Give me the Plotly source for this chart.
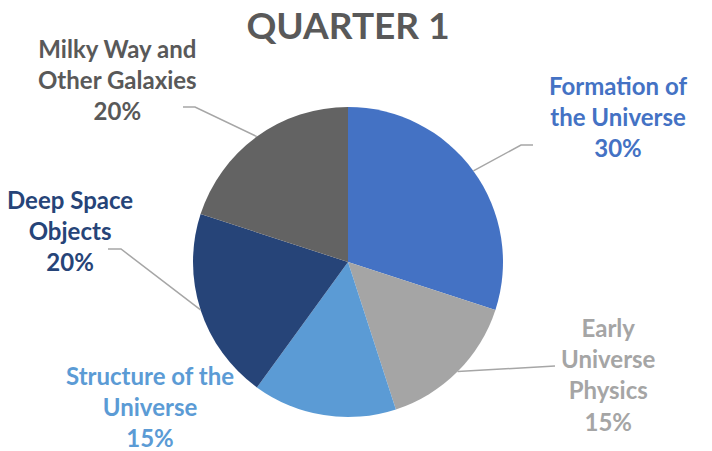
import math
import plotly.graph_objects as go

# Data
categories = ["Formation of<br>the Universe", "Early<br>Universe<br>Physics",
              "Structure of the<br>Universe", "Deep Space<br>Objects",
              "Milky Way and<br>Other Galaxies"]
values = [30, 15, 15, 20, 20]
slice_colors = ["#4472C4", "#A5A5A5", "#5B9BD5", "#264478", "#636363"]
label_colors = ["#4472C4", "#A5A5A5", "#5B9BD5", "#264478", "#595959"]

W, H = 712, 451
CX, CY, R = 348, 262, 155  # pie centre / radius in px

fig = go.Figure(go.Pie(
    labels=categories, values=values, sort=False, direction="clockwise",
    rotation=0, marker=dict(colors=slice_colors, line=dict(width=0)),
    textinfo="none", hoverinfo="label+percent", showlegend=False,
    domain=dict(x=[(CX - R) / W, (CX + R) / W],
                y=[(H - CY - R) / H, (H - CY + R) / H]),
))

# label layout (px positions of label centres) and leader elbows
label_pos = [(618, 117), (608, 374), (150, 406), (70, 230), (118, 79)]
leaders = [
    [(521, 145), (533, 145)],
    [(555, 366)],
    None,
    [(121, 249), (108, 249)],
    [(195, 107), (183, 107)],
]

def px(x, y):
    return x / W, 1 - y / H

total = sum(values)
cum = 0
annotations = []
shapes = []
for i, v in enumerate(values):
    mid = (cum + v / 2) / total * 2 * math.pi
    cum += v
    ex = CX + R * math.sin(mid)
    ey = CY - R * math.cos(mid)
    pct = round(100 * v / total)
    lx, ly = label_pos[i]
    x, y = px(lx, ly)
    annotations.append(dict(
        x=x, y=y, xref="paper", yref="paper", xanchor="center", yanchor="middle",
        text=f"{categories[i]}<br>{pct}%", showarrow=False, align="center",
        font=dict(family="Lato", size=24, color=label_colors[i], weight="bold"),
    ))
    if leaders[i]:
        pts = [(ex, ey)] + leaders[i]
        path = "M " + " L ".join(f"{a / W},{1 - b / H}" for a, b in pts)
        shapes.append(dict(type="path", xref="paper", yref="paper", path=path,
                           line=dict(color="#A6A6A6", width=1.5)))

fig.update_layout(
    width=W, height=H, margin=dict(l=0, r=0, t=0, b=0),
    paper_bgcolor="white", plot_bgcolor="white",
    title=dict(text="QUARTER 1", x=CX / W, xanchor="center", y=1 - 26 / H, yanchor="middle",
               font=dict(family="Lato", size=37, color="#595959", weight="bold")),
    annotations=annotations, shapes=shapes,
)

fig.write_html("out.html", config={"displayModeBar": False},
               post_script="document.body.style.margin='0';")
